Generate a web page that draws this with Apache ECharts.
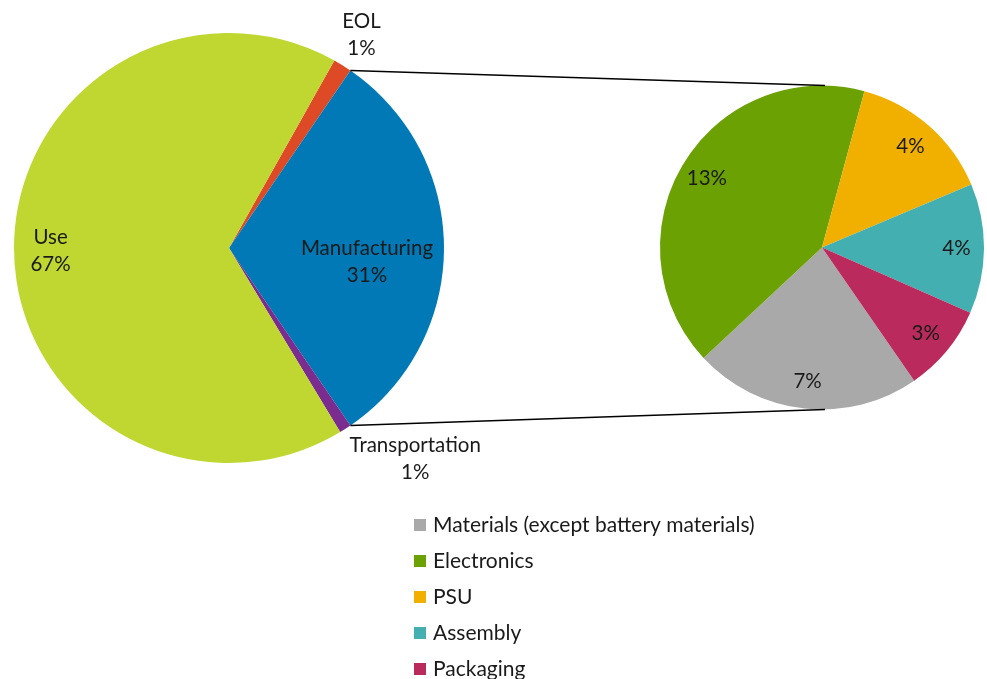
<!DOCTYPE html>
<html>
<head>
<meta charset="utf-8">
<script src="https://cdn.jsdelivr.net/npm/echarts@6/dist/echarts.min.js"></script>
<style>
html,body{margin:0;padding:0;background:#fff;}
#chart{width:987px;height:679px;}
</style>
</head>
<body>
<div id="chart"></div>
<script>
// ---- data ----
const mainNames = ['EOL', 'Manufacturing', 'Transportation', 'Use'];
const mainValues = [1.4, 30.9, 0.9, 66.8];
const mainColors = ['#DE4A26', '#0079B6', '#7A2C8F', '#BFD730'];

const subNames = ['Materials (except battery materials)', 'Electronics', 'PSU', 'Assembly', 'Packaging'];
const subValues = [7.0, 12.7, 4.45, 4.0, 2.7];
const subColors = ['#A9A9A9', '#6CA104', '#F1B000', '#44AFB0', '#BA2A5C'];

// ---- layout ----
const L = {cx: 229, cy: 248, r: 215};
const R = {cx: 822, cy: 247.5, r: 162};
const FONT = 'Lato, "Open Sans", sans-serif';

const sum = a => a.reduce((s, v) => s + v, 0);
const mainTotal = sum(mainValues);
const mfgIdx = mainNames.indexOf('Manufacturing');

// left pie: manufacturing centered on the right-hand horizontal
const mfgSpan = mainValues[mfgIdx] / mainTotal * 360;
let leftStart = mfgSpan / 2;
for (let i = 0; i < mfgIdx; i++) leftStart += mainValues[i] / mainTotal * 360;
const rightStart = 304.7;

function midAngles(values, start) {
  const t = sum(values);
  const out = [];
  let a = start;
  values.forEach(v => {
    const s = v / t * 360;
    out.push(a - s / 2);
    a -= s;
  });
  return out;
}
const mainMid = midAngles(mainValues, leftStart);
const subMid = midAngles(subValues, rightStart);

// label placement in polar terms: [radius factor, angle (null = slice mid)]
const mainLabelPolar = [[1.167, null], [0.645, -5.8], [1.307, -48.5], [0.83, null]];
const subLabelFactor = 0.83;

function polar(c, f, deg) {
  const a = deg * Math.PI / 180;
  return [c.cx + c.r * f * Math.cos(a), c.cy - c.r * f * Math.sin(a)];
}

const chart = echarts.init(document.getElementById('chart'));

const labelText = {color: '#1a1a1a', fontFamily: FONT, fontSize: 20.5, lineHeight: 27};

// connector endpoints
const pTop = polar(L, 1, mfgSpan / 2);
const pBot = polar(L, 1, -mfgSpan / 2);
const qTop = [R.cx + 3, R.cy - R.r];
const qBot = [R.cx + 3, R.cy + R.r];

chart.setOption({
  backgroundColor: '#fff',
  animation: false,
  legend: {
    data: subNames,
    orient: 'vertical',
    left: 414,
    top: 514,
    height: 180,
    padding: 0,
    itemWidth: 12,
    itemHeight: 12,
    itemGap: 14,
    icon: 'rect',
    textStyle: {color: '#1a1a1a', fontFamily: FONT, fontSize: 21, lineHeight: 22, padding: [0, 0, 0, 2]}
  },
  series: [
    {
      type: 'pie',
      center: [L.cx, L.cy],
      radius: [0, L.r],
      startAngle: leftStart,
      clockwise: true,
      avoidLabelOverlap: false,
      data: mainNames.map((n, i) => ({name: n, value: mainValues[i], itemStyle: {color: mainColors[i]}})),
      label: Object.assign({show: true, position: 'inside', formatter: p => p.name + '\n' + Math.round(p.value) + '%'}, labelText),
      labelLine: {show: false},
      labelLayout: p => {
        const pl = mainLabelPolar[p.dataIndex];
        const ang = pl[1] == null ? mainMid[p.dataIndex] : pl[1];
        const xy = polar(L, pl[0], ang);
        return {x: xy[0], y: xy[1], align: 'center', verticalAlign: 'middle'};
      },
      emphasis: {disabled: true}
    },
    {
      type: 'pie',
      center: [R.cx, R.cy],
      radius: [0, R.r],
      startAngle: rightStart,
      clockwise: true,
      avoidLabelOverlap: false,
      data: subNames.map((n, i) => ({name: n, value: subValues[i], itemStyle: {color: subColors[i]}})),
      label: Object.assign({show: true, position: 'inside', formatter: p => Math.round(p.value) + '%'}, labelText),
      labelLine: {show: false},
      labelLayout: p => {
        const xy = polar(R, subLabelFactor, subMid[p.dataIndex]);
        return {x: xy[0], y: xy[1], align: 'center', verticalAlign: 'middle'};
      },
      emphasis: {disabled: true}
    }
  ],
  graphic: [
    {type: 'line', shape: {x1: pTop[0], y1: pTop[1], x2: qTop[0], y2: qTop[1]}, style: {stroke: '#000', lineWidth: 1.5}, z: 10},
    {type: 'line', shape: {x1: pBot[0], y1: pBot[1], x2: qBot[0], y2: qBot[1]}, style: {stroke: '#000', lineWidth: 1.5}, z: 10}
  ]
});
</script>
</body>
</html>
